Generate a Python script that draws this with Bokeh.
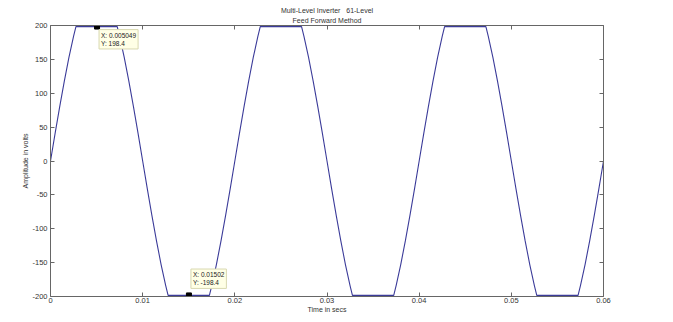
from bokeh.plotting import figure
from bokeh.models import (Range1d, FixedTicker, PrintfTickFormatter, LinearAxis, Label, Title,
                          CustomJSTickFormatter)
from bokeh.embed import file_html
from bokeh.resources import INLINE

# Waveform vertices (time in s, amplitude in V)
time_s = [0, 0.0005, 0.001, 0.0015, 0.002, 0.0025, 0.00276, 0.00724, 0.0075, 0.008, 0.0085, 0.009, 0.0095,
          0.01, 0.0105, 0.011, 0.0115, 0.012, 0.0125, 0.01276, 0.01724, 0.0175, 0.018, 0.0185, 0.019, 0.0195,
          0.02, 0.0205, 0.021, 0.0215, 0.022, 0.0225, 0.02276, 0.02724, 0.0275, 0.028, 0.0285, 0.029, 0.0295,
          0.03, 0.0305, 0.031, 0.0315, 0.032, 0.0325, 0.03276, 0.03724, 0.0375, 0.038, 0.0385, 0.039, 0.0395,
          0.04, 0.0405, 0.041, 0.0415, 0.042, 0.0425, 0.04276, 0.04724, 0.0475, 0.048, 0.0485, 0.049, 0.0495,
          0.05, 0.0505, 0.051, 0.0515, 0.052, 0.0525, 0.05276, 0.05724, 0.0575, 0.058, 0.0585, 0.059, 0.0595,
          0.06]
volts = [0, 40.7, 80.3, 118.0, 152.8, 183.8, 198.4, 198.4, 183.8, 152.8, 118.0, 80.3, 40.7,
         0, -40.7, -80.3, -118.0, -152.8, -183.8, -198.4, -198.4, -183.8, -152.8, -118.0, -80.3, -40.7,
         0, 40.7, 80.3, 118.0, 152.8, 183.8, 198.4, 198.4, 183.8, 152.8, 118.0, 80.3, 40.7,
         0, -40.7, -80.3, -118.0, -152.8, -183.8, -198.4, -198.4, -183.8, -152.8, -118.0, -80.3, -40.7,
         0, 40.7, 80.3, 118.0, 152.8, 183.8, 198.4, 198.4, 183.8, 152.8, 118.0, 80.3, 40.7,
         0, -40.7, -80.3, -118.0, -152.8, -183.8, -198.4, -198.4, -183.8, -152.8, -118.0, -80.3, -40.7,
         0]

tip_x = [0.005049, 0.01502]
tip_y = [198.4, -198.4]
tip_text = ["X: 0.005049\nY: 198.4", "X: 0.01502\nY: -198.4"]

x_ticks = [0, 0.01, 0.02, 0.03, 0.04, 0.05, 0.06]
y_ticks = [-200, -150, -100, -50, 0, 50, 100, 150, 200]

title_line1 = "Multi-Level Inverter\u00a0\u00a0\u00a061-Level"
title_line2 = "Feed Forward Method"
x_label = "Time in secs"
y_label = "Amplitude in volts"

FONT = "Liberation Sans"
AX = "#666666"
TXT = "#333333"

p = figure(width=673, height=322, output_backend="svg", toolbar_location=None,
           x_range=Range1d(0, 0.06), y_range=Range1d(-200, 200),
           min_border_left=50, min_border_right=70, min_border_top=25, min_border_bottom=26,
           x_axis_label=x_label, y_axis_label=y_label)
p.background_fill_color = "white"
p.border_fill_color = "white"
p.outline_line_color = None
p.grid.visible = False

def style(ax):
    ax.axis_line_color = AX
    ax.major_tick_line_color = AX
    ax.major_tick_in = 4
    ax.major_tick_out = 0
    ax.minor_tick_line_color = None
    ax.major_label_text_font = FONT
    ax.major_label_text_font_size = "7.5px"
    ax.major_label_text_color = TXT
    ax.major_label_standoff = 3
    ax.axis_label_text_font = FONT
    ax.axis_label_text_font_size = "7px"
    ax.axis_label_text_font_style = "normal"
    ax.axis_label_text_color = TXT
    ax.axis_label_standoff = 0

p.xaxis.ticker = FixedTicker(ticks=x_ticks)
p.yaxis.ticker = FixedTicker(ticks=y_ticks)
p.xaxis.formatter = PrintfTickFormatter(format="%g")
p.yaxis.formatter = PrintfTickFormatter(format="%g")
style(p.xaxis[0])
style(p.yaxis[0])
p.xaxis.major_label_standoff = 1

blank = CustomJSTickFormatter(code="return ''")
top = LinearAxis(ticker=FixedTicker(ticks=x_ticks), formatter=blank)
right = LinearAxis(ticker=FixedTicker(ticks=y_ticks), formatter=blank)
style(top)
style(right)
top.major_label_standoff = 0
right.major_label_standoff = 0
p.add_layout(top, "above")
p.add_layout(right, "right")

p.add_layout(Title(text=title_line2, align="center", text_font=FONT, text_font_size="7px",
                   text_font_style="normal", text_color=TXT, standoff=3, offset=0), "above")
p.add_layout(Title(text=title_line1, align="center", text_font=FONT, text_font_size="7px",
                   text_font_style="normal", text_color=TXT, standoff=0, offset=0), "above")

p.line(time_s, volts, line_color="#3b3b99", line_width=1.1)

p.scatter(tip_x, tip_y, marker="square", size=5, color="black")

p.add_layout(Label(x=tip_x[0], y=tip_y[0], text=tip_text[0], x_offset=2, y_offset=-3,
                   text_align="left", text_baseline="top", text_font=FONT, text_font_size="6.5px",
                   text_color="#222222", text_line_height=1.2,
                   background_fill_color="#ffffe6", border_line_color="#d8d8b0", padding=2))
p.add_layout(Label(x=tip_x[1], y=tip_y[1], text=tip_text[1], x_offset=2, y_offset=7,
                   text_align="left", text_baseline="bottom", text_font=FONT, text_font_size="6.5px",
                   text_color="#222222", text_line_height=1.2,
                   background_fill_color="#ffffe6", border_line_color="#d8d8b0", padding=2))

open("out.html", "w").write(file_html(p, INLINE))
